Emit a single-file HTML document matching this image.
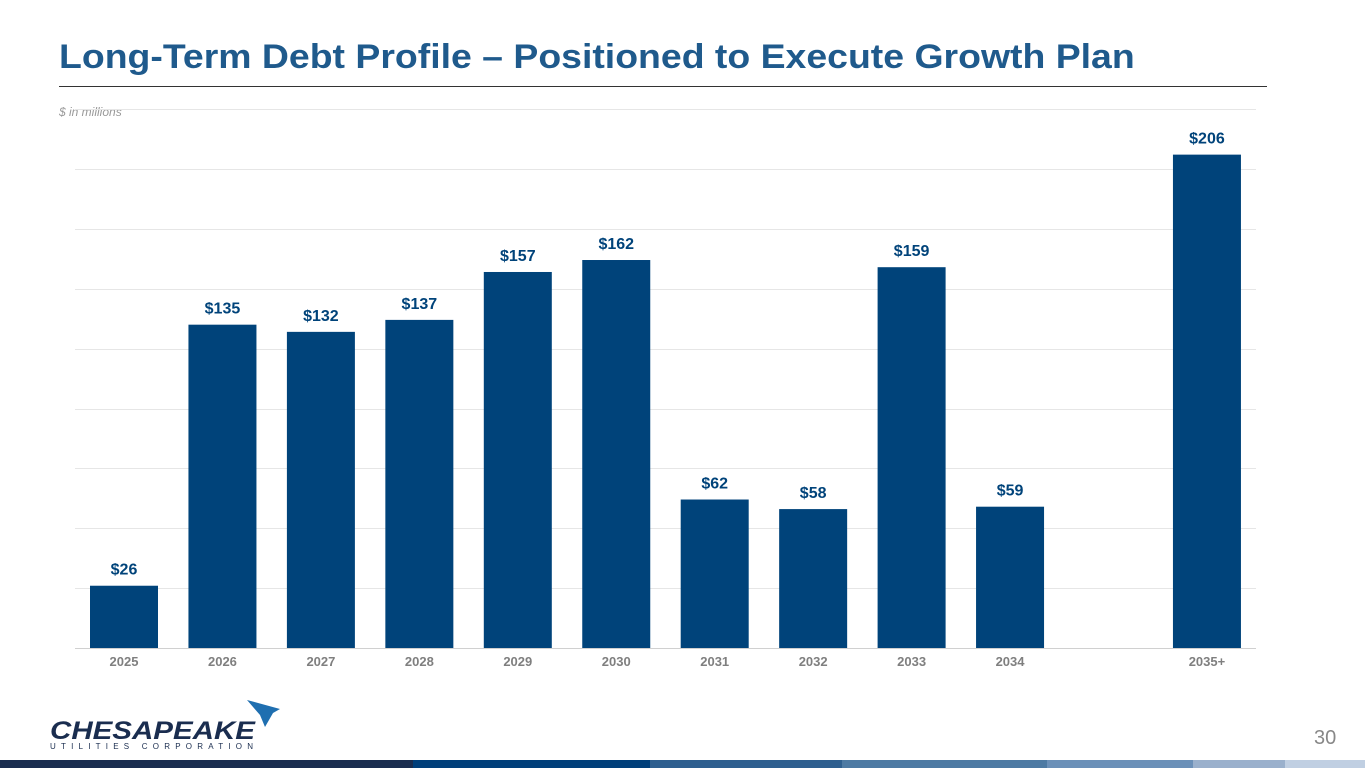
<!DOCTYPE html>
<html><head><meta charset="utf-8"><style>
body{margin:0;width:1365px;height:768px;overflow:hidden;background:#fff;font-family:"Liberation Sans",sans-serif;position:relative}
#title{position:absolute;left:59px;top:38px;font-size:34px;font-weight:bold;color:#1f5a8c;margin:0;white-space:nowrap;transform-origin:0 0;transform:scaleX(1.1)}
#rule{position:absolute;left:59px;top:86px;width:1208px;height:1px;background:#333}
#unit{position:absolute;left:59px;top:105px;font-size:12px;font-style:italic;color:#999}
#pg{position:absolute;left:1314px;top:727px;font-size:20px;color:#888}
.strip{position:absolute;top:760px;height:8px}
</style></head><body>
<h1 id="title">Long-Term Debt Profile – Positioned to Execute Growth Plan</h1>
<div id="rule"></div>
<div id="unit">$ in millions</div>
<svg id="chart" width="1365" height="768" style="position:absolute;left:0;top:0"></svg>
<svg width="260" height="60" style="position:absolute;left:45px;top:697px">
<text x="5" y="42" font-size="25" font-weight="bold" font-style="italic" fill="#1a2d4f" font-family="Liberation Sans" textLength="205" lengthAdjust="spacingAndGlyphs">CHESAPEAKE</text>
<text x="5" y="52" font-size="8" fill="#1a2d4f" font-family="Liberation Sans" textLength="203" lengthAdjust="spacing">UTILITIES  CORPORATION</text>
<path d="M202 3 L235 12 L228 16 L220 30 L215 18 Z" fill="#1f6fb0"/>
</svg>
<div id="pg">30</div>
<div class="strip" style="left:0;width:413px;background:#1a2d4f"></div>
<div class="strip" style="left:413px;width:237px;background:#003f7a"></div>
<div class="strip" style="left:650px;width:192px;background:#2e5f8f"></div>
<div class="strip" style="left:842px;width:205px;background:#4d7aa3"></div>
<div class="strip" style="left:1047px;width:146px;background:#6b90b8"></div>
<div class="strip" style="left:1193px;width:92px;background:#9ab0cc"></div>
<div class="strip" style="left:1285px;width:80px;background:#c0cfe2"></div>
<script>
const categories=["2025","2026","2027","2028","2029","2030","2031","2032","2033","2034","","2035+"];
const values=[26,135,132,137,157,162,62,58,159,59,null,206];
const labels=["$26","$135","$132","$137","$157","$162","$62","$58","$159","$59","","$206"];
const gridTicks=[0,25,50,75,100,125,150,175,200,225];
const NS="http://www.w3.org/2000/svg";
const svg=document.getElementById("chart");
const x0=75,x1=1256,base=648,scale=2.395,slot=98.45,first=124,bw=68;
const y=v=>base-v*scale;
const xc=i=>first+i*slot;
function mk(t,a){const e=document.createElementNS(NS,t);for(const k in a)e.setAttribute(k,a[k]);svg.appendChild(e);return e;}
gridTicks.forEach(t=>{
const l=mk("line",{x1:x0,x2:x1,y1:Math.round(y(t))+0.5,y2:Math.round(y(t))+0.5,stroke:t===0?"#d0d0d0":"#e6e6e6","stroke-width":1});


});
categories.forEach((c,i)=>{
if(values[i]!=null){
const r=mk("rect",{x:xc(i)-bw/2,y:y(values[i]),width:bw,height:values[i]*scale,fill:"#00437a"});


const t=mk("text",{x:xc(i),y:y(values[i])-11,"text-anchor":"middle","font-size":16,"font-weight":"bold",fill:"#00437a"});
t.textContent=labels[i];


}
if(c){
const a=mk("text",{x:xc(i),y:666,"text-anchor":"middle","font-size":13,"font-weight":"bold",fill:"#7f7f7f"});
a.textContent=c;


}
});
</script>
</body></html>
